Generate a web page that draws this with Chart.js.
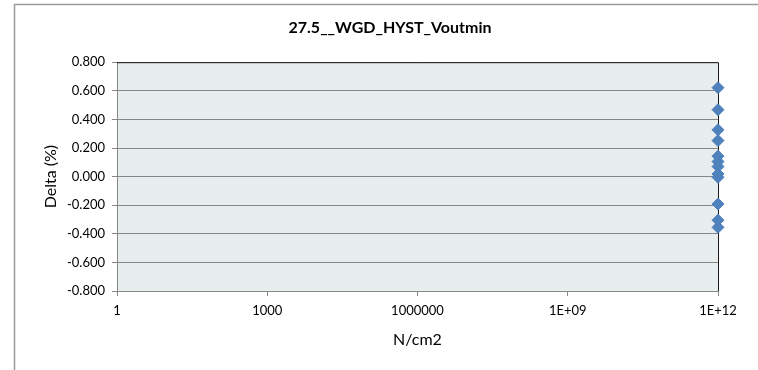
<!DOCTYPE html>
<html>
<head>
<meta charset="utf-8">
<script src="https://cdn.jsdelivr.net/npm/chart.js@4.4.1/dist/chart.umd.min.js"></script>
<style>
    html, body { margin: 0; padding: 0; background: #fff; overflow: hidden; }
    .wrap { position: absolute; left: 0; top: 0; width: 758px; height: 370px; }
</style>
</head>
<body>
<div class="wrap"><canvas id="chart"></canvas></div>
<script>
const chartTitle = '27.5__WGD_HYST_Voutmin'
const xTitle = 'N/cm2'
const yTitle = 'Delta (%)'

// every reading was taken at the same load
const pressure = [1e12, 1e12, 1e12, 1e12, 1e12, 1e12, 1e12, 1e12, 1e12, 1e12, 1e12, 1e12]
const delta = [0.622, 0.468, 0.327, 0.252, 0.143, 0.105, 0.070, 0.018, -0.005, -0.192, -0.305, -0.355]

const xTicks = [1, 1e3, 1e6, 1e9, 1e12]
const xTickLabels = ['1', '1000', '1000000', '1E+09', '1E+12']
const yMin = -0.8
const yMax = 0.8
const yStep = 0.2

const FONT = 'Lato, "Liberation Sans", sans-serif'

const plotFrame = {
    id: 'plotFrame',
    beforeDraw(chart) {
        const { ctx, chartArea: a, width, height } = chart
        ctx.save()
        // outer chart border (only left and top are inside the picture)
        ctx.strokeStyle = '#9a9a9a'
        ctx.lineWidth = 1.5
        ctx.beginPath()
        ctx.moveTo(14.5, height)
        ctx.lineTo(14.5, 4.5)
        ctx.lineTo(width, 4.5)
        ctx.stroke()
        ctx.fillStyle = '#e8eeee'
        ctx.fillRect(a.left, a.top, a.right - a.left, a.bottom - a.top)
        ctx.restore()
    },
    beforeDatasetsDraw(chart) {
        const { ctx, chartArea: a } = chart
        ctx.save()
        ctx.strokeStyle = '#1a1a1a'
        ctx.lineWidth = 1
        ctx.beginPath()
        ctx.moveTo(a.left, a.top + 0.5)
        ctx.lineTo(a.right + 0.5, a.top + 0.5)
        ctx.lineTo(a.right + 0.5, a.bottom)
        ctx.stroke()
        ctx.restore()
    }
}

const points = pressure.map((p, i) => ({ x: p, y: delta[i] }))

new Chart(document.getElementById('chart').getContext('2d'), {
    type: 'scatter',
    data: {
        datasets: [{
            data: points,
            pointStyle: 'rectRot',
            pointRadius: 6,
            pointHoverRadius: 6,
            backgroundColor: '#4f81bd',
            borderColor: '#4f81bd',
            borderWidth: 1,
            clip: false
        }]
    },
    options: {
        responsive: true,
        maintainAspectRatio: false,
        animation: false,
        layout: { padding: { left: 22, right: 0, top: 0, bottom: 21 } },
        plugins: {
            legend: { display: false },
            tooltip: { enabled: false },
            title: {
                display: true,
                text: chartTitle,
                color: '#000',
                font: { family: FONT, size: 16, weight: 'bold' },
                padding: { top: 18, bottom: 25 }
            }
        },
        scales: {
            x: {
                type: 'logarithmic',
                min: xTicks[0],
                max: xTicks[xTicks.length - 1],
                afterBuildTicks(scale) {
                    scale.ticks = xTicks.map(v => ({ value: v }))
                },
                afterFit(scale) {
                    scale.height = 58
                    scale.paddingRight = 40
                },
                ticks: {
                    autoSkip: false,
                    maxRotation: 0,
                    color: '#000',
                    padding: 7,
                    font: { family: FONT, size: 13 },
                    callback: (v) => xTickLabels[xTicks.indexOf(v)]
                },
                grid: {
                    drawOnChartArea: false,
                    drawTicks: true,
                    tickLength: 5,
                    color: '#878787'
                },
                border: { color: '#878787', width: 1 },
                title: {
                    display: true,
                    text: xTitle,
                    color: '#000',
                    font: { family: FONT, size: 16 },
                    padding: { top: 4, bottom: 0 }
                }
            },
            y: {
                min: yMin,
                max: yMax,
                afterFit(scale) { scale.width = 95 },
                ticks: {
                    stepSize: yStep,
                    color: '#000',
                    padding: 7,
                    font: { family: FONT, size: 13 },
                    callback: (v) => Number(v).toFixed(3)
                },
                grid: {
                    color: '#878787',
                    tickLength: 5
                },
                border: { color: '#878787', width: 1 },
                title: {
                    display: true,
                    text: yTitle,
                    color: '#000',
                    font: { family: FONT, size: 16 },
                    padding: { top: 19, bottom: 0 }
                }
            }
        }
    },
    plugins: [plotFrame]
})
</script>
</body>
</html>
